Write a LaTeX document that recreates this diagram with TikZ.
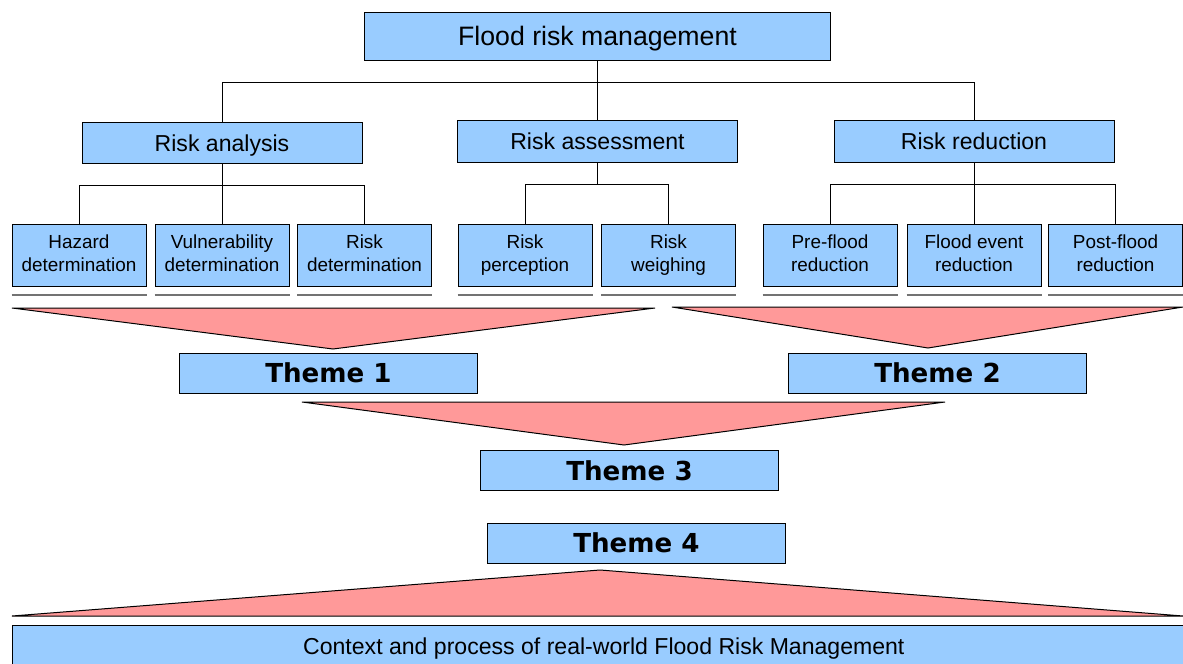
\documentclass[tikz,border=0pt]{standalone}
\usepackage{fontspec}
\setmainfont{Liberation Sans}
\newfontfamily\themefont{DejaVu Sans}
\definecolor{boxblue}{RGB}{153,204,255}
\definecolor{wedgepink}{RGB}{255,153,153}

\tikzset{every picture/.style={line width=0.75pt}}
\tikzset{
	topbox/.style={draw=black, fill=boxblue, inner sep=0pt, text depth=0pt, minimum width=350pt, minimum height=36pt, font=\fontsize{20}{24}\selectfont},
	midbox/.style={draw=black, fill=boxblue, inner sep=0pt, text depth=0pt, minimum width=210pt, minimum height=31pt, font=\fontsize{17.3}{20}\selectfont},
	leafbox/.style={draw=black, fill=boxblue, inner sep=0pt, minimum width=100.5pt, minimum height=46.5pt, align=center, font=\fontsize{14.2}{17.2}\selectfont, execute at begin node={\rule{0pt}{19pt}}, execute at end node={\rule[-3.2pt]{0pt}{1pt}}},
	themebox/.style={draw=black, fill=boxblue, inner sep=0pt, minimum width=224pt, minimum height=30pt, font=\themefont\bfseries\fontsize{19.6}{22}\selectfont},
	wedge/.style={draw=black, fill=wedgepink},
	shelf/.style={draw=black!55, line width=1pt}
}

\begin{document}
\begin{tikzpicture}[x=0.75pt,y=0.75pt,yscale=-1]
\useasboundingbox (0,0) rectangle (1183,664);
% top of the tree
\node[topbox] (frm) at (597.5,36) {Flood risk management};
\node[midbox] (ran) at (222,143) {Risk analysis};
\node[midbox] (ras) at (597.5,141.5) {Risk assessment};
\node[midbox] (rred) at (974,141.5) {Risk reduction};
% leaves
\node[leafbox] (haz) at (79,255) {Hazard\\determination};
\node[leafbox] (vul) at (222,255) {Vulnerability\\determination};
\node[leafbox] (rdet) at (364.5,255) {Risk\\determination};
\node[leafbox] (rper) at (525,255) {Risk\\perception};
\node[leafbox] (rwei) at (668.5,255) {Risk\\weighing};
\node[leafbox] (pre) at (830,255) {Pre-flood\\reduction};
\node[leafbox] (fev) at (974,255) {Flood event\\reduction};
\node[leafbox] (post) at (1115.5,255) {Post-flood\\reduction};
\foreach \n in {haz,vul,rdet,rper,rwei,pre,fev,post}
	\draw[shelf] (\n.south west |- 0,295) -- (\n.south east |- 0,295);

% connectors
\draw (frm.south) -- (frm.south |- 0,82);
\draw (ran.north) |- (rred.north |- 0,82) -- (rred.north);
\draw (ras.north) -- (ras.north |- 0,82);
\draw (ran.south) -- (ran.south |- 0,185);
\draw (haz.north) |- (rdet.north |- 0,185) -- (rdet.north);
\draw (vul.north) -- (vul.north |- 0,185);
\draw (ras.south) -- (ras.south |- 0,184);
\draw (rper.north) |- (rwei.north |- 0,184) -- (rwei.north);
\draw (rred.south) -- (rred.south |- 0,184);
\draw (pre.north) |- (post.north |- 0,184) -- (post.north);
\draw (fev.north) -- (fev.north |- 0,184);

% wedges
\filldraw[wedge] (12,308) -- (655,308) -- (333,349) -- cycle;
\filldraw[wedge] (672,307) -- (1183,307) -- (928,348) -- cycle;
\filldraw[wedge] (302,402) -- (945,402) -- (624,445) -- cycle;
\filldraw[wedge] (12,616) -- (1183,616) -- (600,570) -- cycle;

% themes
\node[themebox] (th1) at (328.5,373) {Theme 1};
\node[themebox] (th2) at (937.5,373) {Theme 2};
\node[themebox] (th3) at (629.5,470.5) {Theme 3};
\node[themebox] (th4) at (636.5,543) {Theme 4};

\node[draw=black, fill=boxblue, inner sep=0pt, anchor=north west, minimum width=887pt, minimum height=34pt, font=\fontsize{17.3}{20}\selectfont] (ctx) at (12,625) {Context and process of real-world Flood Risk Management};
\end{tikzpicture}
\end{document}
